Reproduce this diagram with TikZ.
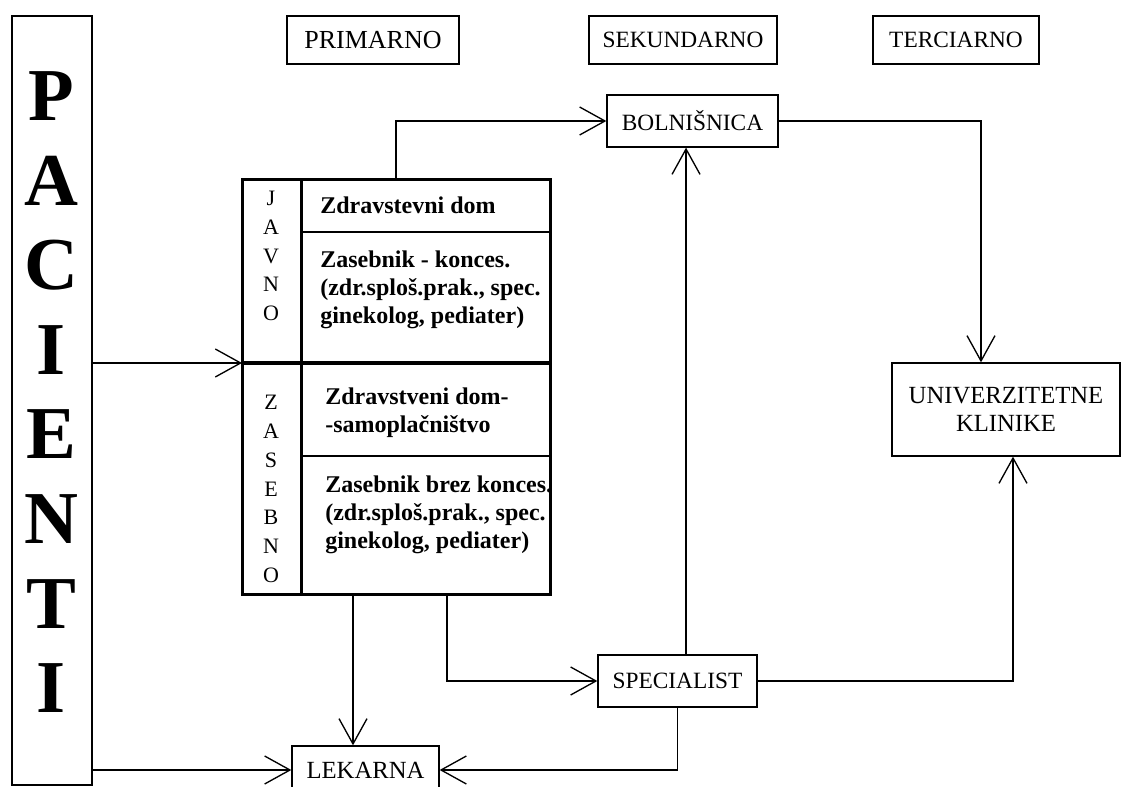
\documentclass[tikz,border=0pt]{standalone}
\usepackage{fontspec}
\setmainfont{Liberation Serif}
\usetikzlibrary{arrows.meta, positioning}

\begin{document}
\begin{tikzpicture}[x=0.75pt, y=-0.75pt,
    box/.style={draw, line width=1pt, inner sep=0pt, align=center, font=\fontsize{17.5}{20}\selectfont},
    cell/.style={inner sep=0pt, align=left, anchor=west, font=\fontsize{18}{21}\selectfont\bfseries},
    column/.style={inner sep=0pt, align=center, font=\fontsize{16.5}{21.6}\selectfont},
    table line/.style={line width=2.25pt},
    arr/.style={line width=1pt, -{Straight Barb[length=19pt, width=21pt]}},]

\useasboundingbox (0,0) rectangle (1122,787);

\node[box, minimum width=60pt, minimum height=576.75pt] (pacienti) at (52,400.5) {};
\foreach \letter [count=\i from 0] in {P,A,C,I,E,N,T,I}
    \node[font=\fontsize{56}{56}\selectfont\bfseries] (pac\i) at (51,{96+84.6*\i}) {\letter};

\node[box, minimum width=129pt, minimum height=36pt, font=\fontsize{19.5}{20}\selectfont] (primarno) at (373,40) {PRIMARNO};
\node[box, minimum width=141pt, minimum height=36pt] (sekundarno) at (683,40) {SEKUNDARNO};
\node[box, minimum width=124.5pt, minimum height=36pt] (terciarno) at (956,40) {TERCIARNO};

\node[box, minimum width=128.25pt, minimum height=39pt] (bolnisnica) at (692.5,121) {BOLNIŠNICA};
\node[box, minimum width=171pt, minimum height=69.75pt, font=\fontsize{18.5}{21}\selectfont] (klinike) at (1006,409.5) {UNIVERZITETNE\\KLINIKE};
\node[box, minimum width=119.25pt, minimum height=39pt] (specialist) at (677.5,681) {SPECIALIST};
\node[box, minimum width=110.25pt, minimum height=36pt, font=\fontsize{18.5}{20}\selectfont] (lekarna) at (365.5,770) {LEKARNA};

% primarno raven
\node[draw, table line, inner sep=0pt, minimum width=231pt, minimum height=311.25pt] (primar) at (396,387.5) {};
\draw[table line] (301,180) -- (301,595);
\draw[line width=1.8pt] (301,232) -- (550,232);
\draw[line width=1.8pt] (301,456) -- (550,456);
\coordinate (mid) at (242,363);
\draw[line width=3.5pt] (mid) -- (mid -| primar.east);

\node[column] (javno) at (271,256) {J\\A\\V\\N\\O};
\node[column] (zasebno) at (271,489) {Z\\A\\S\\E\\B\\N\\O};

\node[cell] (zdom) at (320,205) {Zdravstevni dom};
\node[cell] (zkonc) at (320,290) {Zasebnik - konces.\\(zdr.sploš.prak., spec.\\ginekolog, pediater)};
\node[cell] (zsamo) at (325,413) {Zdravstveni dom-\\-samoplačništvo};
\node[cell] (zbrez) at (325,515) {Zasebnik brez konces.\\(zdr.sploš.prak., spec.\\ginekolog, pediater)};

\draw[arr] (pacienti.east |- mid) -- (mid);
\draw[arr] (pacienti.east |- lekarna.west) -- (lekarna.west);
\draw[arr] (primar.north) |- (bolnisnica.west);
\draw[arr] (bolnisnica.east) -| ([xshift=-18.75pt]klinike.north);
\draw[arr] ([xshift=6.4pt]specialist.north) -- ([xshift=6.4pt]specialist.north |- bolnisnica.south);
\draw[arr] (specialist.east) -| ([xshift=5.25pt]klinike.south);
\draw[arr] ([xshift=-32.25pt]primar.south) -- ([xshift=-32.25pt]primar.south |- lekarna.north);
\draw[arr] ([xshift=38.25pt]primar.south) |- (specialist.west);
\draw[arr] (specialist.south) |- (lekarna.east);
\end{tikzpicture}
\end{document}
